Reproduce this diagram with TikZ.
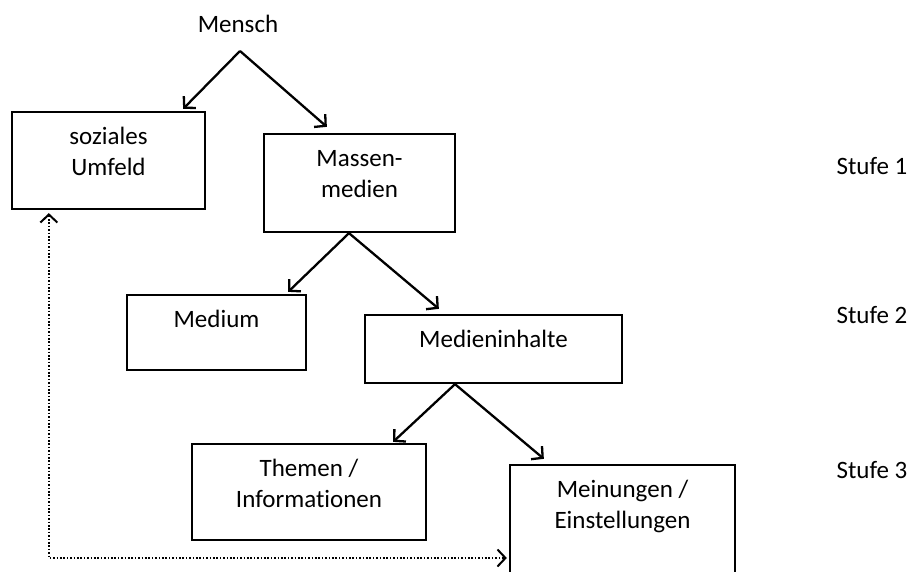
\documentclass[tikz,border=0pt]{standalone}
\usepackage{fontspec}
\setmainfont{Carlito}[Ligatures=CommonOff]
\usetikzlibrary{arrows.meta}
\tikzset{>={Straight Barb[width=17pt,length=8pt]}}

\begin{document}
\begin{tikzpicture}[
    x=1pt, y=1pt,
    font=\fontsize{25}{31}\selectfont,
    box/.style={
        draw,
        line width=2.3pt,
        inner sep=0pt
    },
    boxtext/.style={anchor=base, yshift=-34pt, align=center, inner sep=0pt},
    boxtexttwo/.style={boxtext, yshift=-31pt},
    link/.style={->, line width=2.3pt},
    dotlink/.style={<->, line width=2pt, dash pattern=on 1.7pt off 1.7pt}
]
\useasboundingbox (0,0) rectangle (909,571);

\node[anchor=base] (mensch) at (238,538) {Mensch};
\coordinate (menschfork) at (240,520);

\node[box, minimum width=193pt, minimum height=97pt, label={[boxtexttwo]north:{soziales\\Umfeld}}] (umfeld) at (108.5,410.5) {};
\node[box, minimum width=191pt, minimum height=98pt, label={[boxtexttwo]north:{Massen-\\medien}}] (massen) at (359.5,388) {};

\node[box, minimum width=179pt, minimum height=75pt, label={[boxtext]north:Medium}] (medium) at (216.5,238.5) {};
\node[box, minimum width=257pt, minimum height=68pt, label={[boxtext]north:Medieninhalte}] (inhalte) at (493.5,222) {};

\node[box, minimum width=234pt, minimum height=96pt, label={[boxtexttwo]north:{Themen /\\Informationen}}] (themen) at (309,79) {};
\node[box, minimum width=225pt, minimum height=130pt, label={[boxtexttwo]north:{Meinungen /\\Einstellungen}}] (meinungen) at (622.5,41) {};

\node[anchor=base west] (stufe1) at (833,396) {Stufe 1};
\node[anchor=base west] (stufe2) at (833,248) {Stufe 2};
\node[anchor=base west] (stufe3) at (833,93) {Stufe 3};

\draw[link] (menschfork) -- ([xshift=-23pt,yshift=2pt]umfeld.north east);
\draw[link] (menschfork) -- ([xshift=64pt,yshift=6pt]massen.north west);

\draw[link] ([xshift=-10.5pt]massen.south) -- ([xshift=-19pt,yshift=2pt]medium.north east);
\draw[link] ([xshift=-10.5pt]massen.south) -- ([xshift=75pt,yshift=5pt]inhalte.north west);

\draw[link] ([xshift=-38.5pt]inhalte.south) -- ([xshift=-34pt,yshift=1pt]themen.north east);
\draw[link] ([xshift=-38.5pt]inhalte.south) -- ([xshift=35pt,yshift=5pt]meinungen.north west);

\draw[dotlink] ([xshift=38pt,yshift=-3pt]umfeld.south west) |- ([xshift=-2pt,yshift=-28pt]meinungen.west);

\end{tikzpicture}
\end{document}
